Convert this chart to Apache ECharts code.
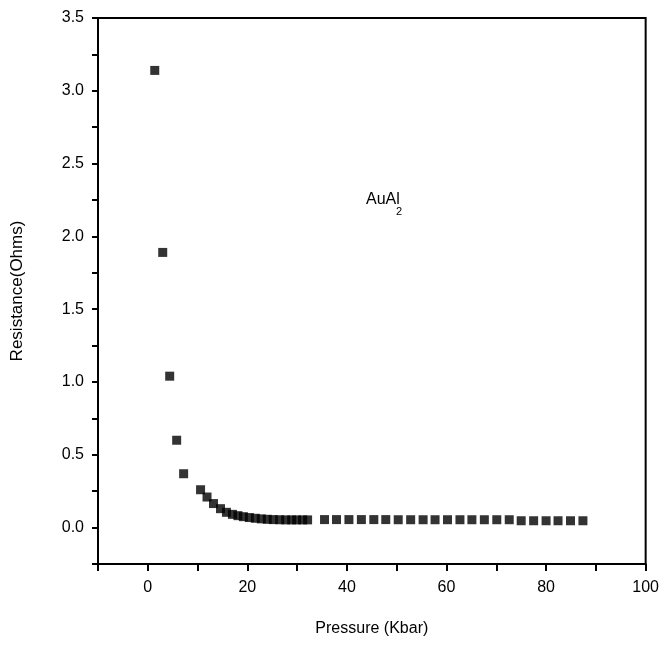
<!DOCTYPE html>
<html><head><meta charset="utf-8">
<script src="https://cdn.jsdelivr.net/npm/echarts@6/dist/echarts.min.js"></script>
<style>html,body{margin:0;padding:0;background:#fff}#c{width:662px;height:646px}</style>
</head><body><div id="c"></div>
<script>
const pressure = [1.4, 3.0, 4.4, 5.8, 7.2, 10.6, 11.9, 13.2, 14.6, 15.8, 17.0, 18.1, 19.2, 20.4, 21.6, 22.8, 24.0, 25.2, 26.5, 27.7, 28.9, 29.9, 31.1, 32.1,
  35.5, 37.9, 40.4, 42.9, 45.4, 47.8, 50.3, 52.8, 55.3, 57.7, 60.2, 62.7, 65.1, 67.6, 70.1, 72.6, 75.0, 77.5, 80.0, 82.4, 84.9, 87.4];
const resistance = [3.14, 1.89, 1.04, 0.60, 0.37, 0.26, 0.21, 0.165, 0.13, 0.105, 0.091, 0.082, 0.075, 0.069, 0.064, 0.060, 0.057, 0.055, 0.054, 0.053, 0.053, 0.053, 0.053, 0.053,
  0.055, 0.055, 0.055, 0.055, 0.055, 0.055, 0.054, 0.054, 0.054, 0.054, 0.054, 0.054, 0.054, 0.054, 0.054, 0.054, 0.047, 0.047, 0.047, 0.047, 0.047, 0.047];
const yTickValues = [-0.25, 0, 0.25, 0.5, 0.75, 1.0, 1.25, 1.5, 1.75, 2.0, 2.25, 2.5, 2.75, 3.0, 3.25, 3.5];
const yLabelValues = [0, 0.5, 1.0, 1.5, 2.0, 2.5, 3.0, 3.5];
const xTickValues = [-10, 0, 10, 20, 30, 40, 50, 60, 70, 80, 90, 100];
const xLabelValues = [0, 20, 40, 60, 80, 100];
const xName = 'Pressure (Kbar)';
const yName = 'Resistance(Ohms)';
const compound = 'AuAl';
const compoundSub = '2';

const font = 'Liberation Sans, Arial, sans-serif';
const chart = echarts.init(document.getElementById('c'));
chart.setOption({
  animation: false,
  backgroundColor: '#fff',
  grid: { left: 98, right: 15, top: 18, bottom: 82, show: true, borderColor: '#000', borderWidth: 2 },
  xAxis: {
    type: 'value', min: -10, max: 100,
    name: xName, nameLocation: 'middle', nameGap: 57,
    nameTextStyle: { fontFamily: font, fontSize: 16, color: '#000' },
    axisLine: { show: true, onZero: false, lineStyle: { color: '#000', width: 2 } },
    axisTick: { show: true, length: 7, inside: false, customValues: xTickValues, lineStyle: { color: '#000', width: 2 } },
    axisLabel: { customValues: xLabelValues, margin: 16, fontFamily: font, fontSize: 16, color: '#000' },
    splitLine: { show: false }
  },
  yAxis: {
    type: 'value', min: -0.25, max: 3.5,
    name: yName, nameLocation: 'middle', nameGap: 72, nameRotate: 90,
    nameTextStyle: { fontFamily: font, fontSize: 17, color: '#000' },
    axisLine: { show: true, onZero: false, lineStyle: { color: '#000', width: 2 } },
    axisTick: { show: true, length: 6, inside: false, customValues: yTickValues, lineStyle: { color: '#000', width: 2 } },
    axisLabel: { customValues: yLabelValues, margin: 14, fontFamily: font, fontSize: 16, color: '#000',
      formatter: v => v.toFixed(1) },
    splitLine: { show: false }
  },
  graphic: [
    { type: 'text', left: 366, top: 192, style: { text: compound, font: '16px ' + font, fill: '#000' } },
    { type: 'text', left: 396, top: 206, style: { text: compoundSub, font: '11px ' + font, fill: '#000' } }
  ],
  series: [{
    type: 'scatter', symbol: 'rect', symbolSize: 9,
    itemStyle: { color: '#000' },
    data: pressure.map((p, i) => [p, resistance[i]])
  }]
});
</script></body></html>
